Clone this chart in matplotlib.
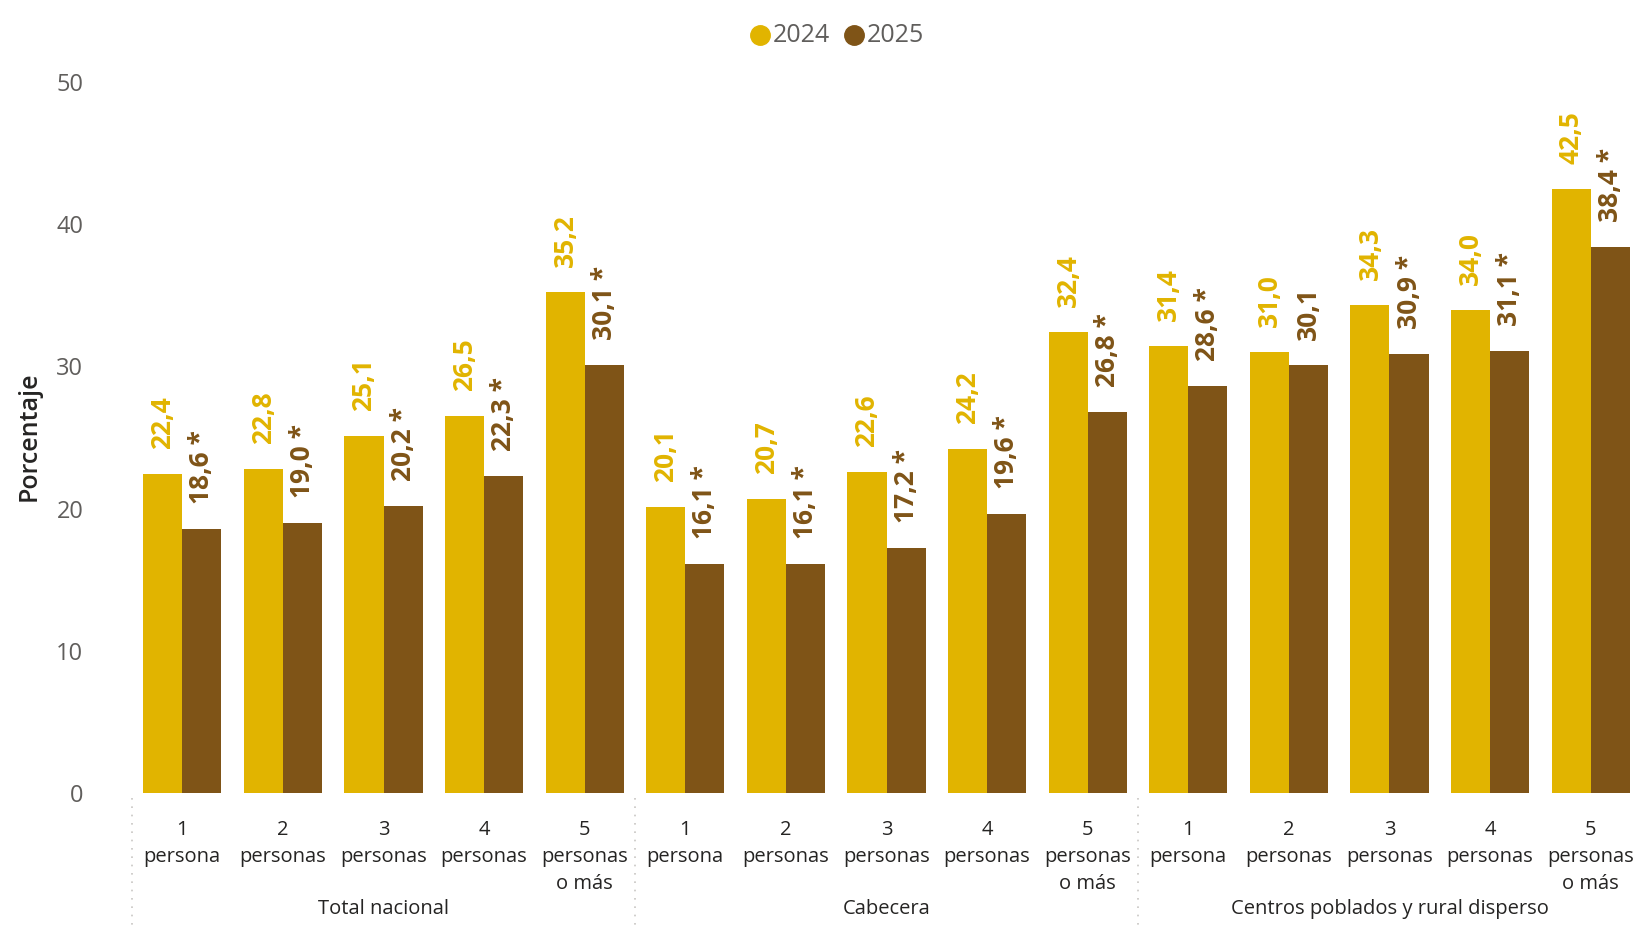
import matplotlib.pyplot as plt
from matplotlib.lines import Line2D
from matplotlib.transforms import blended_transform_factory

# Data
groups = ["Total nacional", "Cabecera", "Centros poblados y rural disperso"]
sizes = ["1\npersona", "2\npersonas", "3\npersonas", "4\npersonas", "5\npersonas\no más"]
v2024 = [22.4, 22.8, 25.1, 26.5, 35.2,
         20.1, 20.7, 22.6, 24.2, 32.4,
         31.4, 31.0, 34.3, 34.0, 42.5]
v2025 = [18.6, 19.0, 20.2, 22.3, 30.1,
         16.1, 16.1, 17.2, 19.6, 26.8,
         28.6, 30.1, 30.9, 31.1, 38.4]
signif = [1, 1, 1, 1, 1,
          1, 1, 1, 1, 1,
          1, 0, 1, 1, 1]

c24 = "#E1B400"
c25 = "#7F5417"
gray = "#605E5C"
FONT = "Open Sans"
W, H = 1638, 926

fig = plt.figure(figsize=(W / 100, H / 100), dpi=100)
ax = fig.add_axes([132 / W, 1 - 793 / H, (1641 - 132) / W, (793 - 82) / H])

n = len(v2024)
x = list(range(n))
bw = 0.388
ax.bar([i - bw / 2 for i in x], v2024, width=bw, color=c24)
ax.bar([i + bw / 2 for i in x], v2025, width=bw, color=c25)

def fmt(v):
    return f"{v:.1f}".replace(".", ",")

for i in x:
    ax.annotate(fmt(v2024[i]), (i - bw / 2, v2024[i]), xytext=(0, 18), textcoords="offset points",
                rotation=90, ha="center", va="bottom", color=c24, fontsize=19,
                fontweight="bold", family=FONT)
    t = fmt(v2025[i]) + (" *" if signif[i] else "")
    ax.annotate(t, (i + bw / 2, v2025[i]), xytext=(0, 18), textcoords="offset points",
                rotation=90, ha="center", va="bottom", color=c25, fontsize=19,
                fontweight="bold", family=FONT)

ax.set_xlim(-0.5, n - 0.5)
ax.set_ylim(0, 50)
ax.set_yticks([0, 10, 20, 30, 40, 50])
ax.set_yticklabels(["0", "10", "20", "30", "40", "50"], color=gray, fontsize=17, family=FONT)
ax.tick_params(axis="y", length=0, pad=35)
ax.set_xticks([])
for s in ax.spines.values():
    s.set_visible(False)

# y axis title
fig.text(29 / W, 1 - 418 * 1.0446 / H, "Porcentaje", rotation=90, ha="center", va="center",
         fontsize=18, family=FONT, color="#252423", fontweight="semibold")

# category labels
tr = blended_transform_factory(ax.transData, fig.transFigure)
for i in x:
    lines = sizes[i % 5].split("\n")
    for k, ln in enumerate(lines):
        ax.text(i, 1 - (830 + 27 * k) / H, ln, transform=tr, ha="center", va="center",
                fontsize=14.5, color="#252423", family=FONT)
for g, name in enumerate(groups):
    ax.text(g * 5 + 2, 1 - 909 / H, name, transform=tr, ha="center", va="center",
            fontsize=14.5, color="#252423", family=FONT)
for b in [-0.5, 4.5, 9.5]:
    ax.add_line(Line2D([b, b], [1 - 798 / H, 0], transform=tr, color="#C8C6C4",
                       lw=1.2, linestyle=(0, (1, 4)), clip_on=False))

# legend
ly = 1 - 35 / H
for cx, col, lab in [(760, c24, "2024"), (854, c25, "2025")]:
    fig.add_artist(Line2D([cx / W], [ly], marker="o", markersize=14, color=col,
                          linestyle="", transform=fig.transFigure))
    fig.text((cx + 13) / W, ly, lab, ha="left", va="center", fontsize=18, color=gray, family=FONT)

fig.savefig("out.png", dpi=100)
